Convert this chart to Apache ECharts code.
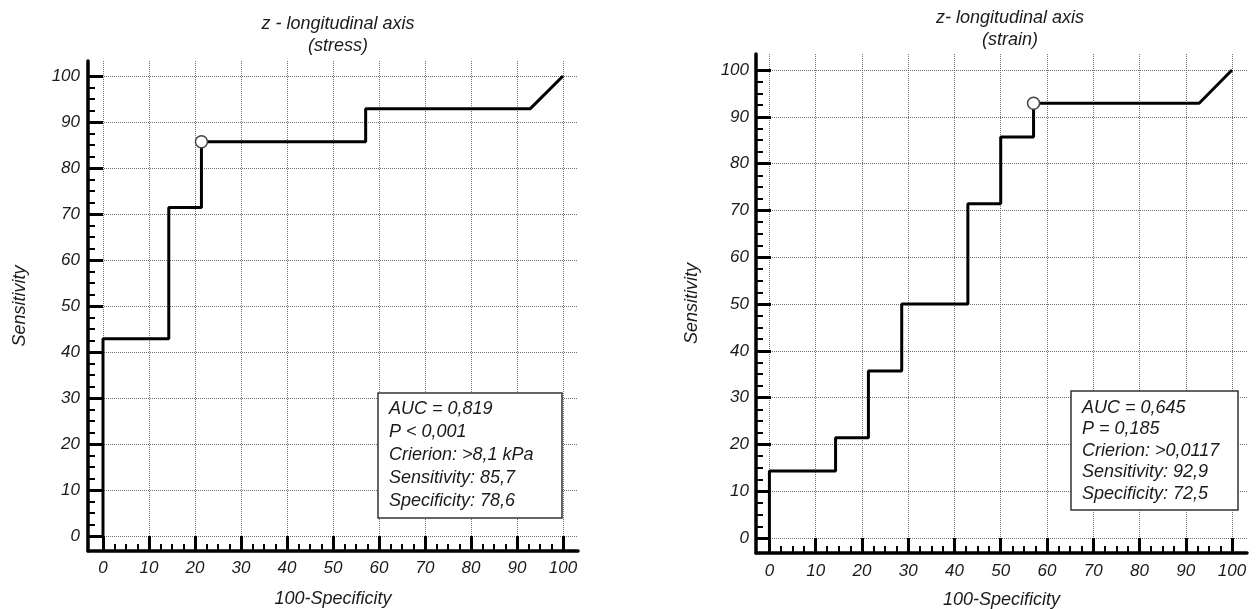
<!DOCTYPE html>
<html>
<head>
<meta charset="utf-8">
<script src="https://cdn.jsdelivr.net/npm/echarts@6/dist/echarts.min.js"></script>
<style>
html,body{margin:0;padding:0;background:#fff;}
#chart{width:1260px;height:609px;}
</style>
</head>
<body>
<div id="chart"></div>
<script>
// ---- data ----
const majorTicks = [0, 10, 20, 30, 40, 50, 60, 70, 80, 90, 100];
const minorTicks = [2.5, 5, 7.5, 12.5, 15, 17.5, 22.5, 25, 27.5, 32.5, 35, 37.5, 42.5, 45, 47.5,
  52.5, 55, 57.5, 62.5, 65, 67.5, 72.5, 75, 77.5, 82.5, 85, 87.5, 92.5, 95, 97.5];

const stressX = [0, 0, 14.3, 14.3, 21.4, 21.4, 57.1, 57.1, 92.9, 100];
const stressY = [0, 42.9, 42.9, 71.4, 71.4, 85.7, 85.7, 92.9, 92.9, 100];
const stressCut = [21.4, 85.7];

const strainX = [0, 0, 14.3, 14.3, 21.4, 21.4, 28.6, 28.6, 42.9, 42.9, 50, 50, 57.1, 57.1, 92.9, 100];
const strainY = [0, 14.3, 14.3, 21.4, 21.4, 35.7, 35.7, 50, 50, 71.4, 71.4, 85.7, 85.7, 92.9, 92.9, 100];
const strainCut = [57.1, 92.9];

const titles = ['z - longitudinal axis\n(stress)', 'z- longitudinal axis\n(strain)'];
const statsStress = ['AUC = 0,819', 'P < 0,001', 'Crierion: >8,1 kPa', 'Sensitivity: 85,7', 'Specificity: 78,6'];
const statsStrain = ['AUC = 0,645', 'P = 0,185', 'Crierion: >0,0117', 'Sensitivity: 92,9', 'Specificity: 72,5'];
const xName = '100-Specificity';
const yName = 'Sensitivity';

// ---- build ----
const FONT = 'Liberation Sans, Arial, sans-serif';
const TXT = '#1a1a1a';
const pair = (xs, ys) => xs.map((x, i) => [x, ys[i]]);

const grids = [
  {left: 88, top: 61, width: 490, height: 490, xr: [-3.26, 103.26], yr: [-3.26, 103.26], xLab: 9, yLab: 8, xGap: 39, yGap: 59},
  {left: 756, top: 54, width: 491, height: 499, xr: [-2.9, 103.24], yr: [-3.2, 103.42], xLab: 10, yLab: 7, xGap: 38, yGap: 55}
];

const xAxes = [], yAxes = [];
grids.forEach((g, gi) => {
  const labelStyle = {fontFamily: FONT, fontStyle: 'italic', fontSize: 17, color: TXT};
  const nameStyle = {fontFamily: FONT, fontStyle: 'italic', fontSize: 18, color: TXT};
  xAxes.push({
    type: 'value', gridIndex: gi, position: 'bottom', min: g.xr[0], max: g.xr[1],
    axisLine: {show: true, onZero: false, lineStyle: {color: '#000', width: 3.5}},
    axisTick: {show: true, inside: true, length: 15, customValues: majorTicks, lineStyle: {color: '#000', width: 3}},
    axisLabel: Object.assign({show: true, margin: g.xLab, customValues: majorTicks}, labelStyle),
    splitLine: {show: true, lineStyle: {color: '#6f6f6f', width: 1, type: [1, 1]}},
    name: xName, nameLocation: 'middle', nameGap: g.xGap, nameTextStyle: nameStyle
  });
  xAxes.push({
    type: 'value', gridIndex: gi, position: 'bottom', min: g.xr[0], max: g.xr[1],
    axisLine: {show: false, onZero: false},
    axisTick: {show: true, inside: true, length: 7, customValues: minorTicks, lineStyle: {color: '#000', width: 2}},
    axisLabel: {show: false}, splitLine: {show: false}
  });
  yAxes.push({
    type: 'value', gridIndex: gi, position: 'left', min: g.yr[0], max: g.yr[1],
    axisLine: {show: true, onZero: false, lineStyle: {color: '#000', width: 3.5}},
    axisTick: {show: true, inside: true, length: 15, customValues: majorTicks, lineStyle: {color: '#000', width: 3}},
    axisLabel: Object.assign({show: true, margin: g.yLab, customValues: majorTicks}, labelStyle),
    splitLine: {show: true, lineStyle: {color: '#6f6f6f', width: 1, type: [1, 1]}},
    name: yName, nameLocation: 'middle', nameGap: g.yGap, nameRotate: 90, nameTextStyle: nameStyle
  });
  yAxes.push({
    type: 'value', gridIndex: gi, position: 'left', min: g.yr[0], max: g.yr[1],
    axisLine: {show: false, onZero: false},
    axisTick: {show: true, inside: true, length: 7, customValues: minorTicks, lineStyle: {color: '#000', width: 2}},
    axisLabel: {show: false}, splitLine: {show: false}
  });
});

function rocSeries(gi, xs, ys, cut) {
  return [
    {type: 'line', xAxisIndex: gi * 2, yAxisIndex: gi * 2, data: pair(xs, ys), symbol: 'none',
     lineStyle: {color: '#000', width: 3}, z: 5, animation: false},
    {type: 'scatter', xAxisIndex: gi * 2, yAxisIndex: gi * 2, data: [cut], symbol: 'circle', symbolSize: 12,
     itemStyle: {color: '#fff', borderColor: '#444', borderWidth: 1.5, opacity: 1}, z: 6, animation: false}
  ];
}

function box(lines, left, top, w, lh, padTop, padBottom) {
  return {
    text: lines.join('\n'), left: left, top: top, padding: [padTop, 0, padBottom, 11],
    textStyle: {fontFamily: FONT, fontStyle: 'italic', fontWeight: 'normal', fontSize: 18, color: TXT,
      lineHeight: lh, width: w},
    backgroundColor: '#fff', borderColor: '#333', borderWidth: 1.5
  };
}

const titleStyle = {fontFamily: FONT, fontStyle: 'italic', fontWeight: 'normal', fontSize: 18, color: TXT, lineHeight: 22};

const option = {
  backgroundColor: '#fff',
  animation: false,
  title: [
    {text: titles[0], left: 333, top: 8, textAlign: 'center', textStyle: titleStyle},
    {text: titles[1], left: 1005, top: 2, textAlign: 'center', textStyle: titleStyle},
    box(statsStress, 378, 393, 173, 23, 4, 6),
    box(statsStrain, 1071, 391, 156, 21.5, 6, 6)
  ],
  grid: grids.map(g => ({left: g.left, top: g.top, width: g.width, height: g.height,
    containLabel: false, outerBoundsMode: 'none'})),
  xAxis: xAxes,
  yAxis: yAxes,
  series: [].concat(rocSeries(0, stressX, stressY, stressCut), rocSeries(1, strainX, strainY, strainCut))
};

const chart = echarts.init(document.getElementById('chart'), null, {renderer: 'canvas'});
chart.setOption(option);
</script>
</body>
</html>
